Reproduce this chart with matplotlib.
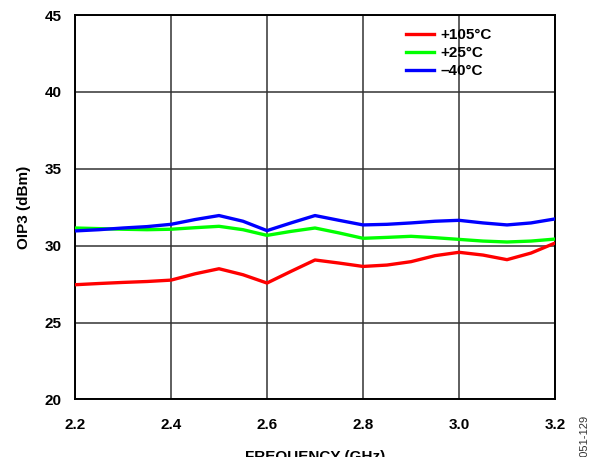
import matplotlib.pyplot as plt

# ---------------------------------------
# Data
# ---------------------------------------

freq_ghz = [2.20, 2.25, 2.30, 2.35, 2.40, 2.45, 2.50, 2.55, 2.60, 2.65, 2.70,
            2.75, 2.80, 2.85, 2.90, 2.95, 3.00, 3.05, 3.10, 3.15, 3.20]

oip3_105c = [27.46, 27.54, 27.61, 27.67, 27.76, 28.17, 28.50, 28.11, 27.57, 28.33, 29.07,
             28.87, 28.65, 28.74, 28.96, 29.35, 29.57, 29.39, 29.09, 29.52, 30.17]

oip3_25c = [31.15, 31.11, 31.07, 31.04, 31.07, 31.17, 31.26, 31.04, 30.67, 30.93, 31.15,
            30.83, 30.48, 30.54, 30.61, 30.52, 30.41, 30.30, 30.24, 30.30, 30.43]

oip3_m40c = [30.96, 31.04, 31.15, 31.24, 31.39, 31.70, 31.96, 31.59, 30.98, 31.48, 31.96,
             31.65, 31.35, 31.39, 31.48, 31.59, 31.65, 31.48, 31.35, 31.48, 31.74]

series_labels = ["+105°C", "+25°C", "\u201340°C"]
series_colors = ["#ff0000", "#00ff00", "#0000ff"]

x_ticks = [2.2, 2.4, 2.6, 2.8, 3.0, 3.2]
y_ticks = [20, 25, 30, 35, 40, 45]

# ---------------------------------------
# Plot
# ---------------------------------------

plt.rcParams["font.family"] = ["Liberation Sans", "DejaVu Sans"]

fig = plt.figure(figsize=(6.0, 4.57), dpi=100)
ax = fig.add_axes([0.125, 0.126, 0.800, 0.841])

for values, label, color in zip([oip3_105c, oip3_25c, oip3_m40c],
                                series_labels, series_colors):
    ax.plot(freq_ghz, values, color=color, linewidth=2.4,
            label=label, solid_joinstyle="round", zorder=3)

ax.set_xlim(2.2, 3.2)
ax.set_ylim(20, 45)
ax.set_xticks(x_ticks)
ax.set_yticks(y_ticks)
ax.set_xticklabels([f"{t:.1f}" for t in x_ticks])
ax.grid(True, color="#333333", linewidth=1.1)

ax.tick_params(length=0, labelsize=11)
ax.tick_params(axis="y", pad=9.5)
ax.tick_params(axis="x", pad=13.3)
for lbl in ax.get_xticklabels() + ax.get_yticklabels():
    lbl.set_fontweight("bold")

for spine in ax.spines.values():
    spine.set_linewidth(1.4)
    spine.set_color("black")

ax.set_ylabel("OIP3 (dBm)", fontsize=11, fontweight="bold", labelpad=10)
ax.set_xlabel("FREQUENCY (GHz)", fontsize=11, fontweight="bold", labelpad=13)

ax.legend(loc="upper left", bbox_to_anchor=(0.69, 0.966), frameon=False,
          prop={"weight": "bold", "size": 11},
          handlelength=1.85, handletextpad=0.4, labelspacing=0.27,
          borderpad=0, borderaxespad=0)

fig.text(0.975, 0.092, "07051-129", rotation=90, fontsize=8,
         ha="center", va="top", color="#333333")

fig.savefig("out.png", dpi=100)
plt.close(fig)
